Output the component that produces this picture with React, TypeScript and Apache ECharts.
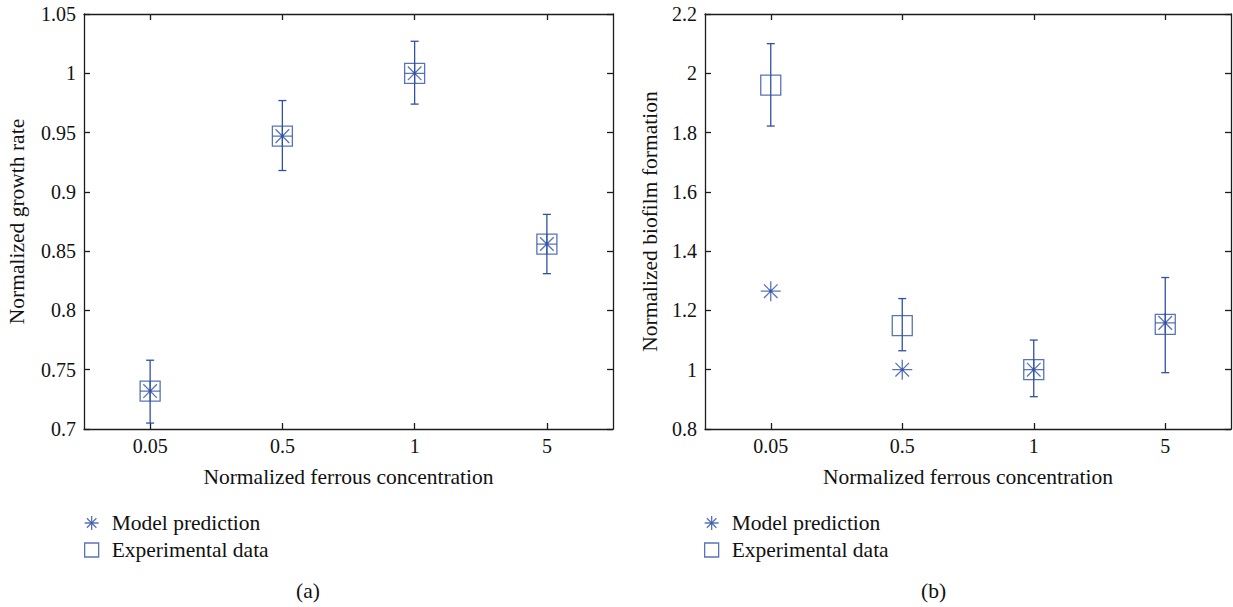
import React, { useEffect, useRef } from "react";
import * as echarts from "echarts";

const categories = ["0.05", "0.5", "1", "5"];

// (a) Normalized growth rate
const growthModel = [0.732, 0.947, 1.0, 0.856];
const growthExp = [0.732, 0.947, 1.0, 0.856];
const growthLow = [0.705, 0.918, 0.974, 0.831];
const growthHigh = [0.758, 0.977, 1.027, 0.881];

// (b) Normalized biofilm formation
const biofilmModel = [1.265, 1.0, 1.0, 1.158];
const biofilmExp = [1.96, 1.149, 1.0, 1.153];
const biofilmLow = [1.822, 1.064, 0.909, 0.99];
const biofilmHigh = [2.1, 1.24, 1.1, 1.311];

const BLUE = "#3050a6";
const AXIS = "#1c1c1c";
const FONT = "Liberation Serif";
const FS = 20;
const NFS = 21.5;

const ASTERISK =
  "path://M0,5 L10,5 M5,0 L5,10 M1.6,1.6 L8.4,8.4 M8.4,1.6 L1.6,8.4 M5,4.3 A0.7,0.7 0 1,1 5,5.7 A0.7,0.7 0 1,1 5,4.3 Z";
const SQUARE = "path://M0,0 L10,0 L10,10 L0,10 Z";

function errorRender(params: any, api: any) {
  const x = api.value(0);
  const lo = api.coord([x, api.value(1)]);
  const hi = api.coord([x, api.value(2)]);
  const cap = 4;
  const style = { stroke: BLUE, lineWidth: 1.3, fill: "none" };
  return {
    type: "group",
    children: [
      { type: "line", shape: { x1: hi[0], y1: hi[1], x2: lo[0], y2: lo[1] }, style },
      { type: "line", shape: { x1: hi[0] - cap, y1: hi[1], x2: hi[0] + cap, y2: hi[1] }, style },
      { type: "line", shape: { x1: lo[0] - cap, y1: lo[1], x2: lo[0] + cap, y2: lo[1] }, style },
    ],
  };
}

function xAxes(gridIndex: number) {
  const common = {
    type: "category",
    data: categories,
    gridIndex,
    boundaryGap: true,
    axisLine: { show: true, lineStyle: { color: AXIS, width: 1.3 } },
    axisTick: { show: true, inside: true, alignWithLabel: true, length: 6, lineStyle: { color: AXIS, width: 1.3 } },
    splitLine: { show: false },
  };
  return [
    {
      ...common,
      position: "bottom",
      name: "Normalized ferrous concentration",
      nameLocation: "middle",
      nameGap: 37,
      nameTextStyle: { fontFamily: FONT, fontSize: NFS, color: "#111" },
      axisLabel: { show: true, margin: 7, fontFamily: FONT, fontSize: FS, color: "#111" },
    },
    { ...common, position: "top", axisLabel: { show: false } },
  ];
}

function yAxes(gridIndex: number, min: number, max: number, interval: number, name: string, nameGap: number) {
  const common = {
    type: "value",
    gridIndex,
    min,
    max,
    interval,
    axisLine: { show: true, lineStyle: { color: AXIS, width: 1.3 } },
    axisTick: { show: true, inside: true, length: 6, lineStyle: { color: AXIS, width: 1.3 } },
    splitLine: { show: false },
  };
  return [
    {
      ...common,
      position: "left",
      name,
      nameLocation: "middle",
      nameGap,
      nameTextStyle: { fontFamily: FONT, fontSize: NFS, color: "#111" },
      axisLabel: { show: true, margin: 8, fontFamily: FONT, fontSize: FS, color: "#111" },
    },
    { ...common, position: "right", axisLabel: { show: false } },
  ];
}

function seriesFor(idx: number, model: number[], exp: number[], low: number[], high: number[]) {
  const xi = idx * 2;
  const yi = idx * 2;
  return [
    {
      type: "custom",
      name: "errorbar" + idx,
      xAxisIndex: xi,
      yAxisIndex: yi,
      renderItem: errorRender,
      encode: { x: 0, y: [1, 2] },
      data: categories.map((_, i) => [i, low[i], high[i]]),
      z: 2,
    },
    {
      type: "scatter",
      name: "Experimental data",
      xAxisIndex: xi,
      yAxisIndex: yi,
      symbol: "rect",
      symbolSize: 20,
      itemStyle: { color: "rgba(0,0,0,0)", borderColor: BLUE, borderWidth: 1.3 },
      data: exp,
      z: 3,
    },
    {
      type: "scatter",
      name: "Model prediction",
      xAxisIndex: xi,
      yAxisIndex: yi,
      symbol: ASTERISK,
      symbolSize: 20,
      itemStyle: { color: BLUE, borderColor: BLUE, borderWidth: 1.3 },
      data: model,
      z: 4,
    },
  ];
}

function legendAt(left: number) {
  return {
    orient: "vertical",
    left,
    top: 512,
    padding: 0,
    itemWidth: 30,
    itemHeight: 14,
    itemGap: 5,
    selectedMode: false,
    textStyle: { fontFamily: FONT, fontSize: NFS, color: "#111" },
    data: [
      { name: "Model prediction", icon: ASTERISK, itemStyle: { color: BLUE, borderColor: BLUE, borderWidth: 1.3 } },
      { name: "Experimental data", icon: SQUARE, itemStyle: { color: "rgba(0,0,0,0)", borderColor: BLUE, borderWidth: 1.3 } },
    ],
  };
}

export default function App() {
  const ref = useRef<HTMLDivElement>(null);
  useEffect(() => {
    if (!ref.current) return;
    const chart = echarts.init(ref.current, undefined, { renderer: "svg" });
    chart.setOption({
      animation: false,
      backgroundColor: "#fff",
      grid: [
        { left: 84, top: 14, width: 529, height: 415 },
        { left: 705, top: 14, width: 526, height: 415 },
      ],
      xAxis: [...xAxes(0), ...xAxes(1)],
      yAxis: [
        ...yAxes(0, 0.7, 1.05, 0.05, "Normalized growth rate", 56),
        ...yAxes(1, 0.8, 2.2, 0.2, "Normalized biofilm formation", 44),
      ],
      legend: [legendAt(84), legendAt(704)],
      series: [
        ...seriesFor(0, growthModel, growthExp, growthLow, growthHigh),
        ...seriesFor(1, biofilmModel, biofilmExp, biofilmLow, biofilmHigh),
      ],
      graphic: [
        { type: "text", left: 296, top: 580, style: { text: "(a)", font: `${NFS}px ${FONT}`, fill: "#111" } },
        { type: "text", left: 921, top: 580, style: { text: "(b)", font: `${NFS}px ${FONT}`, fill: "#111" } },
      ],
    });
    return () => chart.dispose();
  }, []);
  return <div ref={ref} style={{ position: "absolute", left: 0, top: 0, width: 1233, height: 607 }} />;
}
